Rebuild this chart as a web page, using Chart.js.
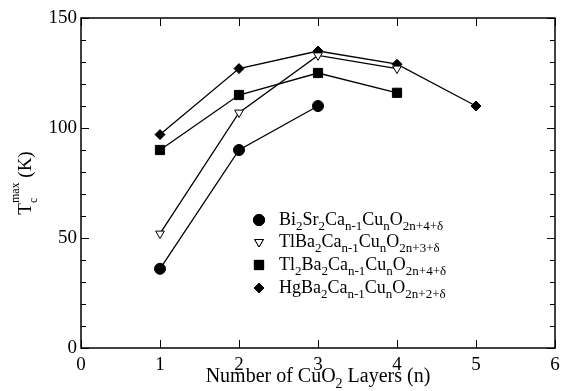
<!DOCTYPE html>
<html>
<head>
<meta charset="utf-8">
<script src="https://cdn.jsdelivr.net/npm/chart.js@4.4.0/dist/chart.umd.min.js"></script>
<style>
  html, body { margin: 0; padding: 0; background: #fff; }
  #wrap { position: relative; width: 571px; height: 391px; }
</style>
</head>
<body>
<div id="wrap"><canvas id="chart" width="571" height="391"></canvas></div>
<script>
// Data
const layers = [1, 2, 3, 4, 5];
const biValues = [36, 90, 110];
const tl1Values = [52, 107, 133, 127];
const tl2Values = [90, 115, 125, 116];
const hgValues = [97, 127, 135, 129, 110];
const xTicks = [0, 1, 2, 3, 4, 5, 6];
const yTicks = [0, 50, 100, 150];

// Legend labels as [text, kind] pieces: n = normal, b = subscript
const legendLabels = [
  [['Bi', 'n'], ['2', 'b'], ['Sr', 'n'], ['2', 'b'], ['Ca', 'n'], ['n-1', 'b'], ['Cu', 'n'], ['n', 'b'], ['O', 'n'], ['2n+4+\u03b4', 'b']],
  [['TlBa', 'n'], ['2', 'b'], ['Ca', 'n'], ['n-1', 'b'], ['Cu', 'n'], ['n', 'b'], ['O', 'n'], ['2n+3+\u03b4', 'b']],
  [['Tl', 'n'], ['2', 'b'], ['Ba', 'n'], ['2', 'b'], ['Ca', 'n'], ['n-1', 'b'], ['Cu', 'n'], ['n', 'b'], ['O', 'n'], ['2n+4+\u03b4', 'b']],
  [['HgBa', 'n'], ['2', 'b'], ['Ca', 'n'], ['n-1', 'b'], ['Cu', 'n'], ['n', 'b'], ['O', 'n'], ['2n+2+\u03b4', 'b']]
];

const FONT = '"Liberation Serif", "Times New Roman", serif';

function toPoints(values) {
  return values.map((v, i) => ({ x: layers[i], y: v }));
}

function series(label, values, style, radius, filled, rotation) {
  return {
    label: label,
    data: toPoints(values),
    borderColor: '#000',
    borderWidth: 1.3,
    pointStyle: style,
    pointRadius: radius,
    pointRotation: rotation || 0,
    pointBackgroundColor: filled ? '#000' : '#fff',
    pointBorderColor: '#000',
    pointBorderWidth: 1,
    tension: 0
  };
}

// draw text pieces with subscripts, left aligned at x, baseline y
function drawRich(ctx, pieces, x, y, size) {
  let cx = x;
  pieces.forEach(([t, k]) => {
    const s = k === 'n' ? size : Math.round(size * 0.7);
    const dy = k === 'b' ? size * 0.3 : 0;
    ctx.font = s + 'px ' + FONT;
    ctx.fillText(t, cx, y + dy);
    cx += ctx.measureText(t).width;
  });
  return cx - x;
}

function richWidth(ctx, pieces, size) {
  let w = 0;
  pieces.forEach(([t, k]) => {
    const s = k === 'n' ? size : Math.round(size * 0.7);
    ctx.font = s + 'px ' + FONT;
    w += ctx.measureText(t).width;
  });
  return w;
}

const framePlugin = {
  id: 'frame',
  afterDraw(chart) {
    const ctx = chart.ctx;
    const a = chart.chartArea;
    const xs = chart.scales.x, ys = chart.scales.y;
    ctx.save();
    ctx.strokeStyle = '#000';
    ctx.lineWidth = 1.5;
    ctx.strokeRect(a.left, a.top, a.right - a.left, a.bottom - a.top);
    ctx.lineWidth = 1;
    ctx.beginPath();
    // x ticks, inward on bottom and top
    xTicks.forEach(v => {
      const px = Math.round(xs.getPixelForValue(v)) + 0.5;
      ctx.moveTo(px, a.bottom); ctx.lineTo(px, a.bottom - 8);
      ctx.moveTo(px, a.top); ctx.lineTo(px, a.top + 8);
    });
    // y ticks every 10, long on multiples of 50
    for (let v = 0; v <= 150; v += 10) {
      const py = Math.round(ys.getPixelForValue(v)) + 0.5;
      const len = v % 50 === 0 ? 8 : 5;
      ctx.moveTo(a.left, py); ctx.lineTo(a.left + len, py);
      ctx.moveTo(a.right, py); ctx.lineTo(a.right - len, py);
    }
    ctx.stroke();

    ctx.fillStyle = '#000';
    ctx.textBaseline = 'alphabetic';
    // x axis title
    const xTitle = [['Number of CuO', 'n'], ['2', 'b'], [' Layers (n)', 'n']];
    const xw = richWidth(ctx, xTitle, 20);
    drawRich(ctx, xTitle, (a.left + a.right) / 2 - xw / 2, 382, 20);

    // y axis title, rotated
    ctx.save();
    ctx.translate(31, 183);
    ctx.rotate(-Math.PI / 2);
    ctx.font = '19px ' + FONT;
    const tW = ctx.measureText('T').width;
    ctx.font = '12px ' + FONT;
    const maxW = ctx.measureText('max').width;
    ctx.font = '19px ' + FONT;
    const kW = ctx.measureText(' (K)').width;
    const total = tW + maxW + kW;
    let cx = -total / 2;
    ctx.fillText('T', cx, 0);
    cx += tW;
    ctx.font = '12px ' + FONT;
    ctx.fillText('c', cx, 6);
    ctx.fillText('max', cx, -12);
    cx += maxW;
    ctx.font = '19px ' + FONT;
    ctx.fillText(' (K)', cx, 0);
    ctx.restore();

    // legend
    const rowY = [220, 242, 265, 288];
    chart.data.datasets.forEach((ds, i) => {
      Chart.helpers.drawPoint(ctx, {
        pointStyle: ds.pointStyle,
        radius: ds.pointRadius,
        rotation: ds.pointRotation,
        borderWidth: 1
      }, 259, rowY[i]);
      ctx.fillStyle = ds.pointBackgroundColor;
      ctx.strokeStyle = '#000';
      ctx.fill();
      ctx.stroke();
      ctx.fillStyle = '#000';
      drawRich(ctx, legendLabels[i], 279, rowY[i] + 5, 18);
    });
    ctx.restore();
  }
};

new Chart(document.getElementById('chart'), {
  type: 'line',
  data: {
    datasets: [
      series('Bi2Sr2Can-1CunO2n+4+d', biValues, 'circle', 5.5, true),
      series('TlBa2Can-1CunO2n+3+d', tl1Values, 'triangle', 5, false, 180),
      series('Tl2Ba2Can-1CunO2n+4+d', tl2Values, 'rect', 6.5, true),
      series('HgBa2Can-1CunO2n+2+d', hgValues, 'rectRot', 5, true)
    ]
  },
  options: {
    responsive: false,
    animation: false,
    layout: { padding: { top: 18, right: 16, left: 0, bottom: 0 } },
    plugins: { legend: { display: false }, tooltip: { enabled: false } },
    scales: {
      x: {
        type: 'linear',
        min: 0, max: 6,
        afterFit(scale) { scale.height = 43; },
        grid: { display: false, drawTicks: false },
        border: { display: false },
        ticks: {
          stepSize: 1,
          color: '#000',
          padding: 8,
          maxRotation: 0,
          font: { family: FONT, size: 19, lineHeight: 1 }
        }
      },
      y: {
        min: 0, max: 150,
        afterFit(scale) { scale.width = 81; },
        grid: { display: false, drawTicks: false },
        border: { display: false },
        ticks: {
          stepSize: 50,
          color: '#000',
          padding: 4,
          font: { family: FONT, size: 19 }
        }
      }
    }
  },
  plugins: [framePlugin]
});
</script>
</body>
</html>
